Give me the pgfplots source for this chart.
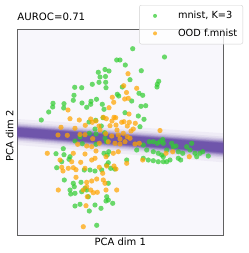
\documentclass[border=0pt]{standalone}
\usepackage{pgfplots}
\pgfplotsset{compat=1.18}
\usepackage{fontspec}
\setmainfont{DejaVu Sans}
\definecolor{greenc}{RGB}{50,205,50}
\definecolor{orangec}{RGB}{255,165,0}
\definecolor{bandc}{RGB}{100,72,165}
\definecolor{bgc}{RGB}{248,247,252}
\begin{document}
\begin{tikzpicture}
\path[use as bounding box] (0,0) rectangle (249bp,253bp);
\begin{axis}[
  at={(17.3bp,18bp)}, anchor=south west,
  scale only axis, width=206bp, height=205.7bp,
  xmin=17.3, xmax=223.3, ymin=29.3, ymax=235, y dir=reverse,
  xtick=\empty, ytick=\empty,
  axis line style={draw=black!62, line width=0.8pt},
  axis background/.style={fill=bgc},
  font=\fontsize{10}{12}\selectfont,
  title={AUROC=0.71},
  title style={at={(axis description cs:0,1)}, anchor=base west, yshift=2.6bp, inner sep=0pt, font=\fontsize{10.2}{12}\selectfont},
  xlabel={PCA dim 1},
  xlabel style={at={(axis description cs:0.5,0)}, anchor=base, yshift=-10.7bp, inner sep=0pt},
  ylabel={PCA dim 2},
  ylabel style={at={(axis description cs:-0.0194,0.48)}, anchor=base, inner sep=0pt},
  legend image code/.code={\path[draw=none,fill=none] (0bp,-2bp) rectangle (33bp,2bp);
     \draw[mark repeat=2,mark phase=2,#1] plot coordinates {(0bp,0bp) (11bp,0bp) (33bp,0bp)};},
  legend image post style={mark size=2bp},
  legend style={at={(axis description cs:1.096,1.118)}, anchor=north east,
    draw=black!18, rounded corners=2bp, fill=white, fill opacity=0.8, text opacity=1, draw opacity=1,
    inner xsep=4.7bp, inner ysep=5.2bp, row sep=6.6bp,
    font=\fontsize{9.8}{11.5}\selectfont, cells={anchor=west}, nodes={inner sep=1bp}},
]
% purple band (background density)
\addplot[draw=none, fill=bandc, fill opacity=0.06, forget plot] coordinates {(17.3,119) (223.3,133.24) (223.3,162.36) (17.3,145)};
\addplot[draw=none, fill=bandc, fill opacity=0.08, forget plot] coordinates {(17.3,122) (223.3,136.6) (223.3,159) (17.3,142)};
\addplot[draw=none, fill=bandc, fill opacity=0.12, forget plot] coordinates {(17.3,123.5) (223.3,138.28) (223.3,157.32) (17.3,140.5)};
\addplot[draw=none, fill=bandc, fill opacity=0.15, forget plot] coordinates {(17.3,124.5) (223.3,139.4) (223.3,156.2) (17.3,139.5)};
\addplot[draw=none, fill=bandc, fill opacity=0.2, forget plot] coordinates {(17.3,125.5) (223.3,140.52) (223.3,155.08) (17.3,138.5)};
\addplot[draw=none, fill=bandc, fill opacity=0.25, forget plot] coordinates {(17.3,126.2) (223.3,141.3) (223.3,154.3) (17.3,137.8)};
\addplot[draw=none, fill=bandc, fill opacity=0.3, forget plot] coordinates {(17.3,126.8) (223.3,141.98) (223.3,153.62) (17.3,137.2)};
\addplot[draw=none, fill=bandc, fill opacity=0.4, forget plot] coordinates {(17.3,127.4) (223.3,142.65) (223.3,152.95) (17.3,136.6)};
\addplot[draw=none, fill=bandc, fill opacity=0.5, forget plot] coordinates {(17.3,128) (223.3,143.32) (223.3,152.28) (17.3,136)};
% mnist, K=3
\addplot[only marks, mark=*, color=greenc, mark size=2.6bp,
  mark options={draw=greenc, fill=greenc, draw opacity=0, fill opacity=0.72}]
coordinates {
(132.7,48.7) (164.5,57) (116.7,60) (120,60) (125.3,65) (98.3,72.3) (105,69.5) (109,71) (141.3,70.7)
(100,77) (105.5,76.5) (158.7,81.3) (157.3,84.3) (157,87) (99,82.3) (105.7,82.3) (106,87.7) (92.3,84.3)
(130,79.7) (122.3,87) (74.7,87.3) (81.7,87.7) (74,95.3) (73.3,100.3) (53,103.3) (52.7,107) (64,103.7)
(63.7,108) (82,103) (86.7,107.3) (91,101.3) (90.7,104.3) (96.5,99.3) (48.7,112) (41.3,120) (89,122)
(117.3,94.3) (118.7,96) (131.7,101) (139,93.3) (142.7,95.3) (102.3,104.3) (104,109.3) (141,106.3)
(145.7,105.7) (125,112.7) (138.3,116) (144,119.3) (95.7,120.3) (103,117.7)
(101.3,126) (95,129) (89.3,133.3) (96,134) (104.7,132.7) (105,138.3) (106.7,141.7) (82.3,143.7) (75,141)
(80,137) (56,153.7) (63.3,148.7) (61.7,161.7) (69,159.3) (70,156.7) (104,153.3) (108.7,151.7) (96,144.3)
(106.7,165) (108.3,162.7) (140,126.7) (149.3,141.7) (153.3,141.7) (157.3,143.3) (160,141.7) (163.3,143.3)
(143.3,145) (146.7,150) (153.3,151.7) (158.3,153.3) (161.7,155) (166.7,150) (136.7,150) (107.3,155)
(126.7,160) (143.3,158.3) (148.3,160) (153.3,160.7) (158.3,161.7) (163.3,161.7) (162.7,139.5)
(171.7,143.3) (173.3,146.7) (176,146) (178.3,151.7) (182.7,153.3) (190,150) (191.7,143.3) (195,153.3)
(200,153.3) (202.7,151.7) (208.3,156) (163.3,156.7) (166.7,161.7) (170,160) (178.3,158.3) (180.7,160)
(64,154.7) (186.7,146.7) (196.7,156.7)
(56.7,167.7) (64.3,180) (73.3,183.3) (74.3,186.7) (84.3,170) (90,170) (95,171) (101.7,170) (110.7,168.3)
(114.7,169) (108.3,183.3) (81,182.3) (70,190) (70.7,194) (75,193.3) (81.7,191.7) (85,188.3) (86.7,190)
(88.3,196.7) (106.7,196.7) (108.3,200) (106,201) (112.7,203.3) (75,206) (80,204.3) (95,205) (101,208.3)
(89.3,211) (96.7,225.3)
};
\addlegendentry{mnist, K=3}
% OOD f.mnist
\addplot[only marks, mark=*, color=orangec, mark size=2.6bp,
  mark options={draw=orangec, fill=orangec, draw opacity=0, fill opacity=0.72}]
coordinates {
(128,73.7) (123.7,85.7) (136.7,88.3) (126.5,92.5) (124.7,99) (128.3,98.3) (112.3,97.3) (113.7,102.3)
(109,107.7) (68,110) (129,114) (115.7,117.7) (106.3,118.7) (129.3,122.3) (92.3,122.3) (79.3,120)
(85.3,125.3) (61,127.3) (75,128.3) (90.7,119) (96,121) (99,126) (67.3,135.3) (80,134.5) (85,134.7)
(92.7,138.7) (99.3,143.3) (77.7,144.3) (86.7,146) (91.7,146.7) (47.3,153.3) (73.3,153.3) (85,154)
(91.7,160) (95,158.3) (80.7,162.3) (99.3,167.3) (85,168.3) (103.3,117.3) (114,117.3) (121.7,122.3)
(124,121.7) (110,125.7) (116,125) (127.3,126) (133.3,129) (135.3,123.3) (160,130.5) (105.7,133.7)
(111.7,136) (118.3,135) (123.3,133.3) (127.3,136.7) (130,138.3) (108.3,141.7) (115,143.3) (120,144)
(125,141.7) (135,144) (139.3,143.3) (113.3,153.3) (118.3,151.7) (106,156.7) (114,166) (116,169)
(172.7,151.7) (166,153.3) (189.3,156.7) (142.7,160) (126.7,163.3) (60,160) (61.7,167.3) (68.3,168.3)
(71.7,161.7) (58,135) (100,130) (117,130) (131,131) (112,121) (120,139) (96,151) (70,118.7)
(63,171) (73.3,167.7) (76,169.7) (76,177.3) (86.7,182.3) (91.7,181) (96.7,179) (103.3,180) (105,183.3)
(58.3,190) (83.3,190) (86.7,186.7) (90.7,190) (97.3,192.3) (106,190) (116.7,190) (87.3,196.7) (86,205.7)
(83.3,226.7) (106.7,166) (102.7,173.3) (93.3,192.7)
};
\addlegendentry{OOD f.mnist}
\end{axis}
\end{tikzpicture}
\end{document}
